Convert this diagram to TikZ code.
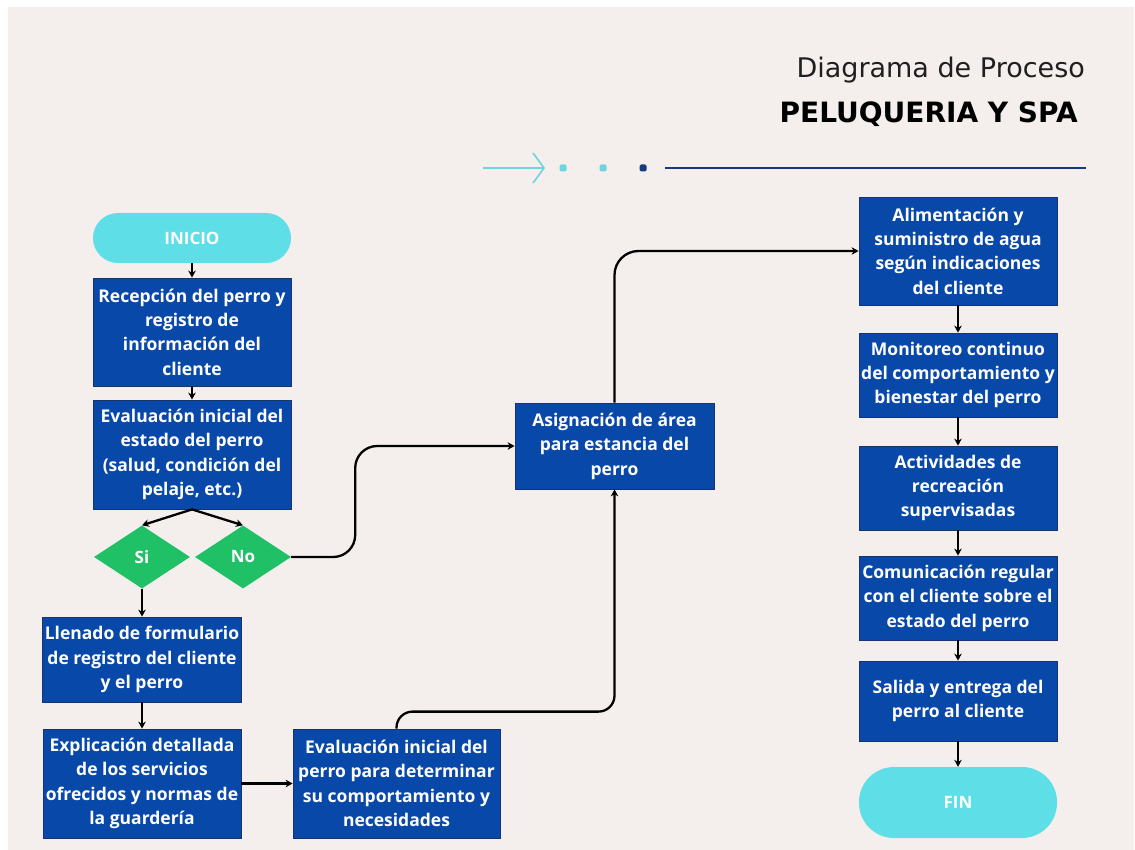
\documentclass[tikz,border=0pt]{standalone}
\usepackage{fontspec}
\setmainfont{Open Sans}
\newfontfamily\headfont{DejaVu Sans}
\usetikzlibrary{shapes.geometric,arrows.meta}
\definecolor{bgc}{RGB}{244,239,236}
\definecolor{boxblue}{RGB}{8,72,168}
\definecolor{boxedge}{RGB}{24,52,110}
\definecolor{cyanfill}{RGB}{94,222,230}
\definecolor{greenfill}{RGB}{32,192,102}
\definecolor{navy}{RGB}{22,58,128}
\definecolor{lightcyan}{RGB}{110,212,222}
\tikzset{
  stepbox/.style={rectangle, fill=boxblue, draw=boxedge, line width=0.8pt,
    text=white, align=center, inner sep=2pt,
    font=\fontsize{17.5}{24.4}\selectfont\bfseries},
  terminal/.style={rectangle, fill=cyanfill, draw=none, text=white,
    font=\fontsize{17}{20}\selectfont\bfseries, minimum width=198pt},
  choice/.style={diamond, fill=greenfill, draw=none, text=white,
    font=\fontsize{17}{20}\selectfont\bfseries, inner sep=0pt,
    minimum width=96pt, minimum height=63pt},
  flow/.style={line width=2.3pt, -{Stealth[length=7pt,width=7.5pt]}},
}
\begin{document}
\begin{tikzpicture}[x=1pt,y=-1pt]
  % page and background
  \useasboundingbox (0,0) rectangle (1135,850);
  \fill[white] (0,0) rectangle (1135,850);
  \fill[bgc] (8,7) rectangle (1134,850);

  % header
  \node[anchor=base east, inner sep=0pt, font=\headfont\fontsize{27}{30}\selectfont, text=black!88] (title1) at (1085,78) {Diagrama de Proceso};
  \node[anchor=base east, inner sep=0pt, font=\headfont\fontsize{28}{30}\selectfont\bfseries, text=black] (title2) at (1078,123) {PELUQUERIA Y SPA};
  \coordinate (arrA) at (483,168);
  \coordinate (arrB) at (545,168);
  \draw[lightcyan, line width=1.6pt, -{Straight Barb[length=11pt,width=30pt,line width=1.6pt]}] (arrA) -- (arrB);
  \fill[lightcyan, rounded corners=1.5pt] (559.5,164.5) rectangle ++(7,7);
  \fill[lightcyan, rounded corners=1.5pt] (599.5,164.5) rectangle ++(7,7);
  \fill[navy, rounded corners=1.5pt] (639.5,164.5) rectangle ++(7,7);
  \coordinate (lineA) at (665,168);
  \coordinate (lineB) at (1086,168);
  \draw[navy, line width=2.2pt] (lineA) -- (lineB);

  % left column
  \node[terminal, minimum height=50pt, rounded corners=25pt] (ini) at (192,238) {INICIO};
  \node[stepbox, minimum width=198pt, minimum height=108pt] (rec) at (192,332) {Recepción del perro y\\registro de\\información del\\cliente};
  \node[stepbox, minimum width=198pt, minimum height=109pt] (eva) at (192,454.5) {Evaluación inicial del\\estado del perro\\(salud, condición del\\pelaje, etc.)};
  \node[choice] (si) at (142,557) {Si};
  \node[choice] (no) at (243,557) {No};
  \node[stepbox, minimum width=198pt, minimum height=85pt] (lle) at (142,659.5) {Llenado de formulario\\de registro del cliente\\y el perro};
  \node[stepbox, minimum width=198pt, minimum height=109pt] (exp) at (142,783.5) {Explicación detallada\\de los servicios\\ofrecidos y normas de\\la guardería};
  \node[stepbox, minimum width=207pt, minimum height=109pt] (evp) at (396.5,783.5) {Evaluación inicial del\\perro para determinar\\su comportamiento y\\necesidades};

  % middle
  \node[stepbox, minimum width=199pt, minimum height=86pt] (asi) at (614.5,446) {Asignación de área\\para estancia del\\perro};

  % right column
  \node[stepbox, minimum width=198pt, minimum height=108pt] (ali) at (958,251) {Alimentación y\\suministro de agua\\según indicaciones\\del cliente};
  \node[stepbox, minimum width=198pt, minimum height=84pt] (mon) at (958,375) {Monitoreo continuo\\del comportamiento y\\bienestar del perro};
  \node[stepbox, minimum width=198pt, minimum height=84pt] (act) at (958,488) {Actividades de\\recreación\\supervisadas};
  \node[stepbox, minimum width=198pt, minimum height=84pt] (com) at (958,598) {Comunicación regular\\con el cliente sobre el\\estado del perro};
  \node[stepbox, minimum width=198pt, minimum height=80pt] (sal) at (958,701) {Salida y entrega del\\perro al cliente};
  \node[terminal, minimum height=71pt, rounded corners=35pt] (fin) at (958,802.5) {FIN};

  % connectors
  \draw[flow] (ini) -- (rec);
  \draw[flow] (rec) -- (eva);
  \draw[flow] (eva.south) -- (si.north);
  \draw[flow] (eva.south) -- (no.north);
  \draw[flow] (si) -- (lle);
  \draw[flow] (lle) -- (exp);
  \draw[flow] (exp) -- (evp);
  \draw[flow, rounded corners=22pt] (no.east) -- ++(64,0) |- (asi.west);
  \draw[flow, rounded corners=16pt] (evp.north) -- ++(0,-17) -| (asi.south);
  \draw[flow, rounded corners=24pt] (asi.north) |- (ali.west);
  \draw[flow] (ali) -- (mon);
  \draw[flow] (mon) -- (act);
  \draw[flow] (act) -- (com);
  \draw[flow] (com) -- (sal);
  \draw[flow] (sal) -- (fin);
\end{tikzpicture}
\end{document}
